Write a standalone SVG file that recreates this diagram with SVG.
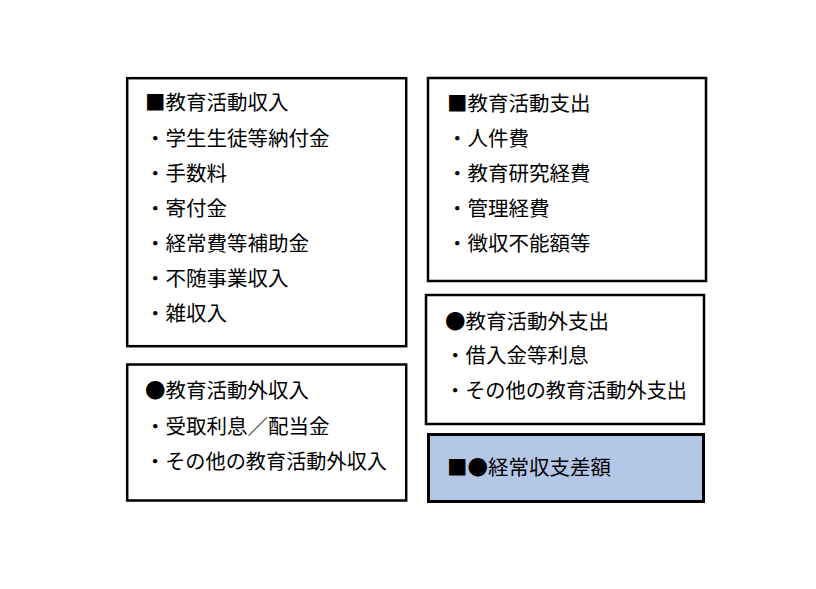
<svg xmlns="http://www.w3.org/2000/svg" width="816" height="589" viewBox="0 0 816 589">
<style>
.box{fill:#ffffff;stroke:#000000;stroke-width:2.5}
.hl{fill:#B4C7E7;stroke:#000000;stroke-width:3}
text{font-family:"Noto Sans CJK JP","Noto Sans CJK SC",sans-serif;font-size:20.5px;fill:#000000}
</style>
<rect width="816" height="589" fill="#ffffff"/>
<g id="node-income">
<rect class="box" x="127.2" y="78.2" width="279" height="268"/>
<text x="145" y="110">■教育活動収入</text>
<text x="145" y="146">・学生生徒等納付金</text>
<text x="145" y="181">・手数料</text>
<text x="145" y="216">・寄付金</text>
<text x="145" y="251">・経常費等補助金</text>
<text x="145" y="286">・不随事業収入</text>
<text x="145" y="321">・雑収入</text>
</g>
<g id="node-other-income">
<rect class="box" x="127.2" y="364.5" width="279" height="136"/>
<text x="145" y="398">●教育活動外収入</text>
<text x="145" y="434">・受取利息／配当金</text>
<text x="145" y="469" textLength="242" lengthAdjust="spacingAndGlyphs">・その他の教育活動外収入</text>
</g>
<g id="node-expense">
<rect class="box" x="428" y="78" width="278" height="203"/>
<text x="447" y="111">■教育活動支出</text>
<text x="447" y="146">・人件費</text>
<text x="447" y="181">・教育研究経費</text>
<text x="447" y="216">・管理経費</text>
<text x="447" y="251">・徴収不能額等</text>
</g>
<g id="node-other-expense">
<rect class="box" x="426" y="295" width="278" height="129"/>
<text x="445" y="329">●教育活動外支出</text>
<text x="445" y="363">・借入金等利息</text>
<text x="445" y="398" textLength="242" lengthAdjust="spacingAndGlyphs">・その他の教育活動外支出</text>
</g>
<g id="node-balance">
<rect class="hl" x="428.5" y="434.5" width="275" height="67"/>
<text x="447" y="475">■●経常収支差額</text>
</g>
<g id="connectors"></g>
</svg>
